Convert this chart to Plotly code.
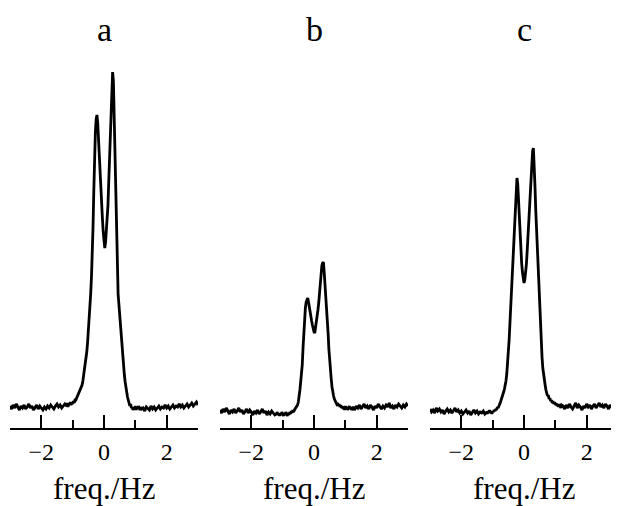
import numpy as np
import plotly.graph_objects as go

# frequency sampling grid (Hz): coarse outside, fine around the lines
FREQ_LEFT = np.round(np.linspace(-3.0, -1.25, 36), 3)
FREQ_CENTER = np.round(np.linspace(-1.2, 1.2, 97), 3)
FREQ_RIGHT = np.round(np.linspace(1.25, 3.0, 36), 3)

PANEL_TITLES = ["a", "b", "c"]
TICK_VALS = [-2, 0, 2]
TICK_TEXT = ["\u22122", "0", "2"]
MINOR_TICK_VALS = [-1, 1]
X_LABEL = "freq./Hz"

# spectrum a (arbitrary intensity units)
A_LEFT = [6, 3, 7, 4, 8, 5, 2, 6, 4, 7, 3, 5, 8, 4, 6, 2, 5, 7, 3, 6, 4, 2, 5, 3,
          6, 4, 7, 5, 3, 6, 8, 5, 7, 4, 6, 8]
A_CENTER = [6, 9, 5, 8, 7, 10, 7, 9, 8, 11, 9, 12, 12, 14, 14, 17, 18, 20, 22, 24,
            27, 31, 36, 41, 46, 52, 60, 69, 79, 90, 102, 118, 135, 152, 185, 222,
            258, 280, 293, 297, 289, 271, 249, 233, 220, 206, 193, 180, 170, 164,
            170, 182, 193, 206, 229, 255, 279, 301, 322, 340, 331, 295, 252, 202,
            158, 133, 118, 108, 97, 84, 72, 61, 52, 44, 37, 30, 24, 19, 15, 12, 10,
            6, 8, 4, 5, 2, 4, 3, 6, 2, 5, 3, 6, 4, 2, 5, 3]
A_RIGHT = [4, 1, 5, 3, 2, 6, 3, 5, 2, 4, 6, 3, 5, 4, 7, 4, 6, 3, 5, 7, 4, 6, 5, 8,
           5, 7, 4, 6, 8, 5, 7, 9, 6, 8, 10, 7]

# spectrum b
B_LEFT = [2, -1, 3, 0, 4, 1, -2, 2, 0, 3, -1, 1, 4, 0, 2, -2, 1, 3, -1, 2, 0, -3,
          1, -1, 2, -2, 0, 3, -1, 1, -3, 0, -2, 1, -1, -3]
B_CENTER = [-2, 0, -3, -1, -4, -1, -3, 0, -2, -4, -1, -3, 0, -2, -4, -1, -3, 0, -2,
            1, -1, 2, 0, 2, 3, 4, 6, 7, 10, 15, 22, 30, 36, 47, 64, 82, 95, 104,
            110, 113, 114, 110, 104, 98, 94, 91, 87, 83, 80, 79, 84, 92, 98, 102,
            109, 120, 132, 140, 146, 149, 150, 140, 129, 117, 105, 92, 79, 63, 50,
            41, 33, 25, 19, 16, 13, 11, 10, 8, 9, 6, 8, 5, 7, 4, 6, 3, 5, 2, 6, 3,
            5, 2, 4, 6, 3, 5, 2]
B_RIGHT = [5, 2, 6, 4, 7, 3, 5, 8, 4, 6, 3, 7, 5, 2, 6, 4, 8, 5, 3, 6, 4, 7, 5, 9,
           4, 6, 3, 7, 5, 8, 6, 4, 7, 5, 8, 6]

# spectrum c
C_LEFT = [3, 0, 2, -1, 4, 1, 3, 0, 2, -2, 1, 3, 0, 2, -1, 1, 4, 0, 2, -1, 1, -2,
          0, 2, -1, 1, -3, 0, 2, -1, 1, -2, 0, -1, 1, -2]
C_CENTER = [0, -2, 1, -1, 2, -1, 1, -2, 1, 0, 2, 1, 3, 2, 5, 4, 7, 8, 10, 12, 14,
            17, 20, 23, 26, 31, 38, 48, 58, 72, 88, 105, 121, 136, 149, 163, 181,
            198, 220, 234, 228, 210, 189, 172, 160, 149, 140, 133, 129, 132, 139,
            147, 160, 175, 192, 208, 223, 236, 250, 261, 264, 250, 226, 202, 182,
            165, 150, 130, 108, 86, 70, 55, 44, 36, 31, 27, 22, 20, 16, 17, 13, 14,
            11, 12, 9, 11, 8, 10, 7, 9, 6, 8, 5, 8, 6, 4, 7]
C_RIGHT = [6, 3, 7, 4, 8, 5, 3, 6, 9, 4, 7, 5, 2, 6, 4, 8, 5, 7, 3, 6, 8, 4, 6, 9,
           5, 7, 4, 8, 6, 3, 7, 5, 8, 6, 9, 5]

freq = np.concatenate([FREQ_LEFT, FREQ_CENTER, FREQ_RIGHT])
spectra = [
    A_LEFT + A_CENTER + A_RIGHT,
    B_LEFT + B_CENTER + B_RIGHT,
    C_LEFT + C_CENTER + C_RIGHT,
]

FONT = "Liberation Serif"
# page body adds an 8 px offset; size the figure so the plot lands in place
W, H = 611, 498
ML, MR, MT, MB = 2, 1, 52, 78
PW = W - ML - MR
PH = H - MT - MB
domains = [[0, 188 / PW], [210 / PW, 398 / PW], [420 / PW, 1.0]]

fig = go.Figure()
for i, ys in enumerate(spectra):
    sfx = "" if i == 0 else str(i + 1)
    fig.add_trace(go.Scatter(
        x=freq, y=ys, mode="lines",
        line=dict(color="black", width=2.8),
        xaxis="x" + sfx, yaxis="y" + sfx, showlegend=False,
        hoverinfo="skip",
    ))
    fig.layout["xaxis" + sfx] = dict(
        domain=domains[i], range=[-3, 3], anchor="y" + sfx,
        showline=True, linecolor="black", linewidth=2,
        ticks="inside", ticklen=13, tickwidth=1.6, tickcolor="black",
        tickvals=TICK_VALS, ticktext=TICK_TEXT,
        minor=dict(ticks="inside", tickvals=MINOR_TICK_VALS, ticklen=8,
                   tickwidth=1.6, tickcolor="black", showgrid=False),
        showgrid=False, zeroline=False,
        tickfont=dict(family=FONT, size=24, color="black"),
        ticklabelstandoff=1,
        fixedrange=True,
    )
    fig.layout["yaxis" + sfx] = dict(
        domain=[0, 1], range=[-16, 352], visible=False, anchor="x" + sfx,
        fixedrange=True,
    )
    fig.add_annotation(
        text=PANEL_TITLES[i], xref="x" + sfx, yref="paper", x=0, y=(368 - 30 + 60) / PH - 0.0 if False else (428 - 30) / PH,
        xanchor="center", yanchor="middle", showarrow=False,
        font=dict(family=FONT, size=34, color="black"),
    )
    fig.add_annotation(
        text=X_LABEL, xref="x" + sfx, yref="paper", x=0, y=(428 - 488) / PH,
        xanchor="center", yanchor="middle", showarrow=False,
        font=dict(family=FONT, size=31, color="black"),
    )

fig.update_layout(
    width=W, height=H,
    margin=dict(l=ML, r=MR, t=MT, b=MB),
    paper_bgcolor="white", plot_bgcolor="white",
)

fig.write_html("out.html")
